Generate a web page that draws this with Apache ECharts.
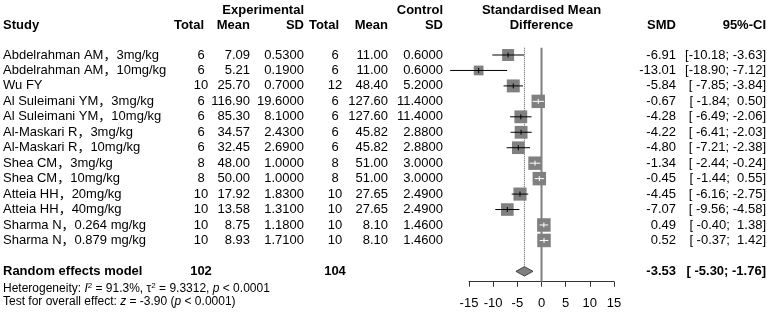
<!DOCTYPE html>
<html><head><meta charset="utf-8">
<script src="https://cdn.jsdelivr.net/npm/echarts@6/dist/echarts.min.js"></script>
<style>html,body{margin:0;padding:0;background:#fff}#c{width:767px;height:315px}</style>
</head><body><div id="c"></div>
<script>
// ---------- data ----------
const studies = ['Abdelrahman AM，3mg/kg','Abdelrahman AM，10mg/kg','Wu FY','Al Suleimani YM，3mg/kg','Al Suleimani YM，10mg/kg','Al-Maskari R，3mg/kg','Al-Maskari R，10mg/kg','Shea CM，3mg/kg','Shea CM，10mg/kg','Atteia HH，20mg/kg','Atteia HH，40mg/kg','Sharma N，0.264 mg/kg','Sharma N，0.879 mg/kg'];
const expTotal = [6,6,10,6,6,6,6,8,8,10,10,10,10];
const expMean = [7.09,5.21,25.70,116.90,85.30,34.57,32.45,48.00,50.00,17.92,13.58,8.75,8.93];
const expSD = [0.53,0.19,0.70,19.6,8.1,2.43,2.69,1.0,1.0,1.83,1.31,1.18,1.71];
const ctrlTotal = [6,6,12,6,6,6,6,8,8,10,10,10,10];
const ctrlMean = [11.00,11.00,48.40,127.60,127.60,45.82,45.82,51.00,51.00,27.65,27.65,8.10,8.10];
const ctrlSD = [0.6,0.6,5.2,11.4,11.4,2.88,2.88,3.0,3.0,2.49,2.49,1.46,1.46];
const smd = [-6.91,-13.01,-5.84,-0.67,-4.28,-4.22,-4.80,-1.34,-0.45,-4.45,-7.07,0.49,0.52];
const ciLow = [-10.18,-18.90,-7.85,-1.84,-6.49,-6.41,-7.21,-2.44,-1.44,-6.16,-9.56,-0.40,-0.37];
const ciHigh = [-3.63,-7.12,-3.84,0.50,-2.06,-2.03,-2.38,-0.24,0.55,-2.75,-4.58,1.38,1.42];
const pooledSMD = -3.53, pooledLow = -5.30, pooledHigh = -1.76;
const totalExp = 102, totalCtrl = 104;
const I2 = '91.3%', tau2 = 9.3312, pHet = '< 0.0001', zVal = '-3.90', pOverall = '< 0.0001';
const xTicks = [-15,-10,-5,0,5,10,15];

// ---------- layout ----------
const FONT = '"Liberation Sans", Arial, "Noto Sans CJK SC", sans-serif';
const FS = 13;
const POOLED_ROW = 15;
const BOX = 13.5;
const cols = [
  {x:3, align:'left'},
  {x:201, align:'center'},
  {x:250, align:'right'},
  {x:304, align:'right'},
  {x:335, align:'center'},
  {x:388, align:'right'},
  {x:443, align:'right'},
  {x:676, align:'right'},
  {x:766, align:'right'}
];
function fmtCI(l,h){ return '[' + l.toFixed(2).padStart(6,' ') + '; ' + h.toFixed(2).padStart(5,' ') + ']'; }
const weights = ciLow.map((l,i)=>{const se=(ciHigh[i]-l)/(2*1.959964); return 1/(se*se+tau2);});
const wmax = Math.max(...weights);

function txt(x,y,text,align,bold){
  return {type:'text', style:{x:x, y:y, text:text, align:align, textAlign:align, verticalAlign:'middle', textVerticalAlign:'middle', fontSize:FS, fontFamily:FONT, fontWeight:bold?'bold':'normal', fill:'#000'}};
}

const chart = echarts.init(document.getElementById('c'));
chart.setOption({
  animation:false,
  backgroundColor:'#fff',
  grid:{left:469, right:153, top:39.55, bottom:33.3},
  xAxis:{type:'value', min:xTicks[0], max:xTicks[xTicks.length-1], interval:5,
    axisLine:{show:true, onZero:false, lineStyle:{color:'#333', width:1}},
    axisTick:{show:true, length:5, lineStyle:{color:'#333'}},
    axisLabel:{margin:15, fontSize:FS, color:'#000', fontFamily:FONT},
    splitLine:{show:false}},
  yAxis:{type:'value', inverse:true, min:0, max:15.67, show:false},
  graphic:[
    txt(3,25,'Study','left',true),
    txt(204,25,'Total','right',true),
    txt(250,25,'Mean','right',true),
    txt(304,25,'SD','right',true),
    txt(304,10,'Experimental','right',true),
    txt(339,25,'Total','right',true),
    txt(388,25,'Mean','right',true),
    txt(443,25,'SD','right',true),
    txt(443,10,'Control','right',true),
    txt(541.5,10,'Standardised Mean','center',true),
    txt(541.5,25,'Difference','center',true),
    txt(676,25,'SMD','right',true),
    txt(766,25,'95%-CI','right',true),
    {type:'text', style:{x:3, y:289, verticalAlign:'middle', textVerticalAlign:'middle', fill:'#000',
      text:'Heterogeneity: {i|I}{s|2} = '+I2+', τ{s|2} = '+tau2.toFixed(4)+', {i|p} '+pHet,
      fontSize:12, fontFamily:FONT,
      rich:{i:{fontStyle:'italic', fontSize:12, fontFamily:FONT}, s:{fontSize:8, fontFamily:FONT, verticalAlign:'top', lineHeight:14}}}},
    {type:'text', style:{x:3, y:302, verticalAlign:'middle', textVerticalAlign:'middle', fill:'#000',
      text:'Test for overall effect: {i|z} = '+zVal+' ({i|p} '+pOverall+')',
      fontSize:12, fontFamily:FONT,
      rich:{i:{fontStyle:'italic', fontSize:12, fontFamily:FONT}}}}
  ],
  series:[
    {type:'line', data:[[0,0.53],[0,15.67]], symbol:'none', silent:true, z:1,
     lineStyle:{color:'#808080', width:2}},
    {type:'line', data:[[pooledSMD,0.53],[pooledSMD,14.72]], symbol:'none', silent:true, z:1,
     lineStyle:{color:'#555', width:1, type:'dotted'}},
    {type:'custom', z:3, clip:false, data:smd.map((v,i)=>[v,i+1]),
     renderItem:function(params, api){
       const i = params.dataIndex;
       const c = api.coord([smd[i], i+1]);
       const lo = api.coord([ciLow[i], i+1]);
       const hi = api.coord([ciHigh[i], i+1]);
       const s = BOX*Math.sqrt(weights[i]/wmax);
       const inside = (hi[0]-lo[0]) < s;
       const col = inside ? '#fff' : '#000';
       return {type:'group', children:[
         {type:'rect', shape:{x:c[0]-s/2, y:c[1]-s/2, width:s, height:s}, style:{fill:'#808080'}},
         {type:'line', shape:{x1:lo[0], y1:c[1], x2:hi[0], y2:c[1]}, style:{stroke:col, lineWidth:1}},
         {type:'line', shape:{x1:c[0], y1:c[1]-2.5, x2:c[0], y2:c[1]+2.5}, style:{stroke:col, lineWidth:1}}
       ]};
     }},
    {type:'custom', z:3, clip:false, data:[[pooledSMD, POOLED_ROW]],
     renderItem:function(params, api){
       const l = api.coord([pooledLow, POOLED_ROW]);
       const m = api.coord([pooledSMD, POOLED_ROW]);
       const h = api.coord([pooledHigh, POOLED_ROW]);
       const d = 4.7;
       return {type:'polygon', shape:{points:[[l[0],l[1]],[m[0],m[1]-d],[h[0],h[1]],[m[0],m[1]+d]]},
         style:{fill:'#808080', stroke:'#444', lineWidth:1}};
     }},
    {type:'custom', z:4, clip:false, data:studies.map((s,i)=>[0,i+1]),
     renderItem:function(params, api){
       const i = params.dataIndex;
       const y = api.coord([0, i+1])[1];
       const vals = [studies[i], String(expTotal[i]), expMean[i].toFixed(2), expSD[i].toFixed(4),
         String(ctrlTotal[i]), ctrlMean[i].toFixed(2), ctrlSD[i].toFixed(4), smd[i].toFixed(2), fmtCI(ciLow[i], ciHigh[i])];
       return {type:'group', children: vals.map((v,k)=>txt(cols[k].x, y, v, cols[k].align, false))};
     }},
    {type:'custom', z:4, clip:false, data:[[0,POOLED_ROW]],
     renderItem:function(params, api){
       const y = api.coord([0, POOLED_ROW])[1];
       return {type:'group', children:[
         txt(cols[0].x, y, 'Random effects model', 'left', true),
         txt(cols[1].x, y, String(totalExp), 'center', true),
         txt(cols[4].x, y, String(totalCtrl), 'center', true),
         txt(cols[7].x, y, pooledSMD.toFixed(2), 'right', true),
         txt(cols[8].x, y, fmtCI(pooledLow, pooledHigh), 'right', true)
       ]};
     }}
  ]
});
</script></body></html>
